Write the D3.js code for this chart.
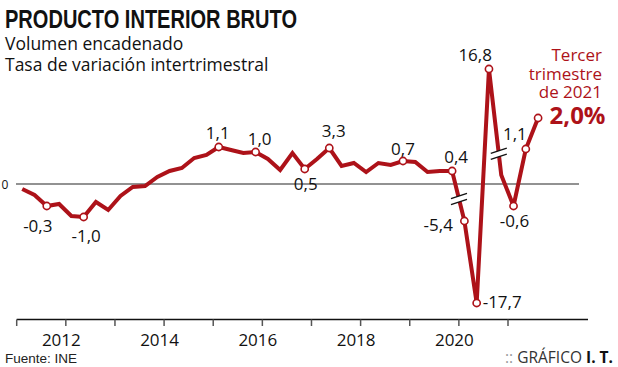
<!DOCTYPE html>
<html><head><meta charset="utf-8">
<script src="https://cdn.jsdelivr.net/npm/d3@7"></script>
<style>body{margin:0;background:#fff}svg{display:block}</style>
</head><body>
<svg id="c" width="618" height="367"></svg>
<script>
// ---- DATA ----
const quarters = [
  "2011-1","2011-2","2011-3","2011-4","2012-1","2012-2","2012-3","2012-4",
  "2013-1","2013-2","2013-3","2013-4","2014-1","2014-2","2014-3","2014-4",
  "2015-1","2015-2","2015-3","2015-4","2016-1","2016-2","2016-3","2016-4",
  "2017-1","2017-2","2017-3","2017-4","2018-1","2018-2","2018-3","2018-4",
  "2019-1","2019-2","2019-3","2019-4","2020-1","2020-2","2020-3","2020-4",
  "2021-1","2021-2","2021-3"
];
// plotted (schematic) height of the line above/below zero
const values = [
  -5, -11, -22, -20, -32, -33, -18, -26,
  -12, -3, -2, 7, 13, 16, 26, 29,
  37, 34, 31, 32, 25, 14, 31, 15,
  25, 36, 18, 21, 12, 21, 19, 23,
  22, 12, 13, 13, -37, -119, 115, 9,
  -22, 35, 66
];
const markedIdx   = [2, 5, 16, 19, 23, 25, 31, 35, 36, 37, 38, 40, 41, 42];
const markedText  = ["-0,3","-1,0","1,1","1,0","0,5","3,3","0,7","0,4","-5,4","-17,7","16,8","-0,6","1,1",""];
const yearTicks   = [2011,2012,2013,2014,2015,2016,2017,2018,2019,2020,2021];
const yearLabels  = [2012,2014,2016,2018,2020];
const breakSegs   = [35, 38];       // axis breaks drawn on segment starting at this index
const breakFrac   = [0.56, 0.8];
const title       = "PRODUCTO INTERIOR BRUTO";
const subtitle    = ["Volumen encadenado","Tasa de variación intertrimestral"];
const noteLines   = ["Tercer","trimestre","de 2021"];
const noteValue   = "2,0%";
const source      = "Fuente: INE";

// ---- LAYOUT ----
const RED = "#ad1219";
const labelLayout = {
  2:{a:"middle",dx:-9,dy:26}, 5:{a:"middle",dx:2.5,dy:25}, 16:{a:"middle",dx:-1,dy:-8},
  19:{a:"middle",dx:4,dy:-7}, 23:{a:"middle",dx:1,dy:21}, 25:{a:"middle",dx:4.5,dy:-11},
  31:{a:"middle",dx:0,dy:-6}, 35:{a:"middle",dx:4,dy:-8}, 36:{a:"end",dx:-11.5,dy:10},
  37:{a:"start",dx:6,dy:5}, 38:{a:"end",dx:3,dy:-8}, 40:{a:"middle",dx:1,dy:21},
  41:{a:"end",dx:1,dy:-9}, 42:{a:"start",dx:0,dy:0}
};

const svg = d3.select("#c");
const x = d3.scaleLinear().domain([2011, 2021]).range([16.7, 508]);
const y = d3.scaleLinear().domain([-125, 125]).range([309, 59]);
const qx = q => { const [yr, n] = q.split("-").map(Number); return x(yr + (n - 1 + 0.45) / 4); };
const pts = quarters.map((q, i) => [qx(q), y(values[i])]);

// title & subtitle
svg.append("text").attr("x", 5).attr("y", 28).text(title)
  .attr("font-family", "'Liberation Sans', Arial, sans-serif").attr("font-weight", 900)
  .attr("font-size", 26).attr("fill", "#111")
  .attr("textLength", 292).attr("lengthAdjust", "spacingAndGlyphs");
subtitle.forEach((s, i) => svg.append("text").attr("x", 5).attr("y", 50 + i * 21).text(s)
  .attr("font-family", "'Open Sans', sans-serif").attr("font-size", 17.5).attr("fill", "#111"));

// zero line
svg.append("line").attr("x1", 16).attr("x2", 579).attr("y1", y(0)).attr("y2", y(0))
  .attr("stroke", "#6e6e6e").attr("stroke-width", 1.5);
svg.append("text").attr("x", 1.5).attr("y", y(0) + 4.5).text("0")
  .attr("font-family", "'Open Sans', sans-serif").attr("font-size", 12).attr("fill", "#111");

// bottom axis
const axisY = 319.5;
const axisG = svg.append("g").attr("transform", `translate(0,${axisY})`);
axisG.append("line").attr("x1", x(2011)).attr("x2", 588).attr("stroke", "#111").attr("stroke-width", 1.5);
axisG.selectAll(".tk").data(yearTicks).join("line")
  .attr("x1", d => x(d)).attr("x2", d => x(d)).attr("y1", 0).attr("y2", 6.5)
  .attr("stroke", "#555").attr("stroke-width", 1.5);
axisG.selectAll(".tl").data(yearLabels).join("text")
  .attr("x", d => x(d) - 4.5).attr("y", 26.5).attr("text-anchor", "middle").text(d => d)
  .attr("font-family", "'Open Sans', sans-serif").attr("font-size", 17).attr("fill", "#111");

// line
svg.append("path").attr("d", d3.line()(pts)).attr("fill", "none")
  .attr("stroke", RED).attr("stroke-width", 4).attr("stroke-linejoin", "miter").attr("stroke-miterlimit", 3);

// breaks
breakSegs.forEach((s, k) => {
  const t = breakFrac[k];
  const px = pts[s][0] + (pts[s + 1][0] - pts[s][0]) * t;
  const py = pts[s][1] + (pts[s + 1][1] - pts[s][1]) * t;
  const hw = 8, sl = 2.6, gap = 3;
  svg.append("polygon")
    .attr("points", [[px - hw, py - gap + sl], [px + hw, py - gap - sl], [px + hw, py + gap - sl], [px - hw, py + gap + sl]].map(p => p.join(",")).join(" "))
    .attr("fill", "#fff");
  [-gap, gap].forEach(o => svg.append("line")
    .attr("x1", px - hw).attr("y1", py + o + sl).attr("x2", px + hw).attr("y2", py + o - sl)
    .attr("stroke", "#111").attr("stroke-width", 1.4));
});

// markers
svg.selectAll(".pt").data(markedIdx).join("circle")
  .attr("cx", i => pts[i][0]).attr("cy", i => pts[i][1]).attr("r", 3.6)
  .attr("fill", "#fff").attr("stroke", RED).attr("stroke-width", 1.6);

// value labels
svg.selectAll(".vl").data(markedIdx).join("text")
  .attr("x", i => pts[i][0] + labelLayout[i].dx).attr("y", i => pts[i][1] + labelLayout[i].dy)
  .attr("text-anchor", i => labelLayout[i].a)
  .text((i, k) => markedText[k])
  .attr("font-family", "'Open Sans', sans-serif").attr("font-size", 17).attr("fill", "#111");

// annotation (one text block)
const last = pts[pts.length - 1];
const note = svg.append("text").attr("text-anchor", "end")
  .attr("font-family", "'Open Sans', sans-serif").attr("fill", RED);
noteLines.forEach((s, i) => note.append("tspan").attr("x", 602).attr("y", 61 + i * 18.5)
  .attr("font-size", 17).text(s));
note.append("tspan").attr("x", 605.5).attr("y", last[1] + 5.5)
  .attr("font-size", 24).attr("font-weight", 700).text(noteValue);

// footer
svg.append("text").attr("x", 5).attr("y", 362.5).text(source)
  .attr("font-family", "'Liberation Sans', Arial, sans-serif").attr("font-size", 13.5).attr("fill", "#222");
const cr = svg.append("text").attr("x", 613).attr("y", 363).attr("text-anchor", "end")
  .attr("font-family", "'Open Sans', sans-serif").attr("font-size", 15.5).attr("fill", "#333");
cr.append("tspan").attr("fill", "#999").text(":: ");
cr.append("tspan").text("GRÁFICO ");
cr.append("tspan").attr("font-weight", 700).attr("fill", "#111").text("I. T.");
</script>
</body></html>
